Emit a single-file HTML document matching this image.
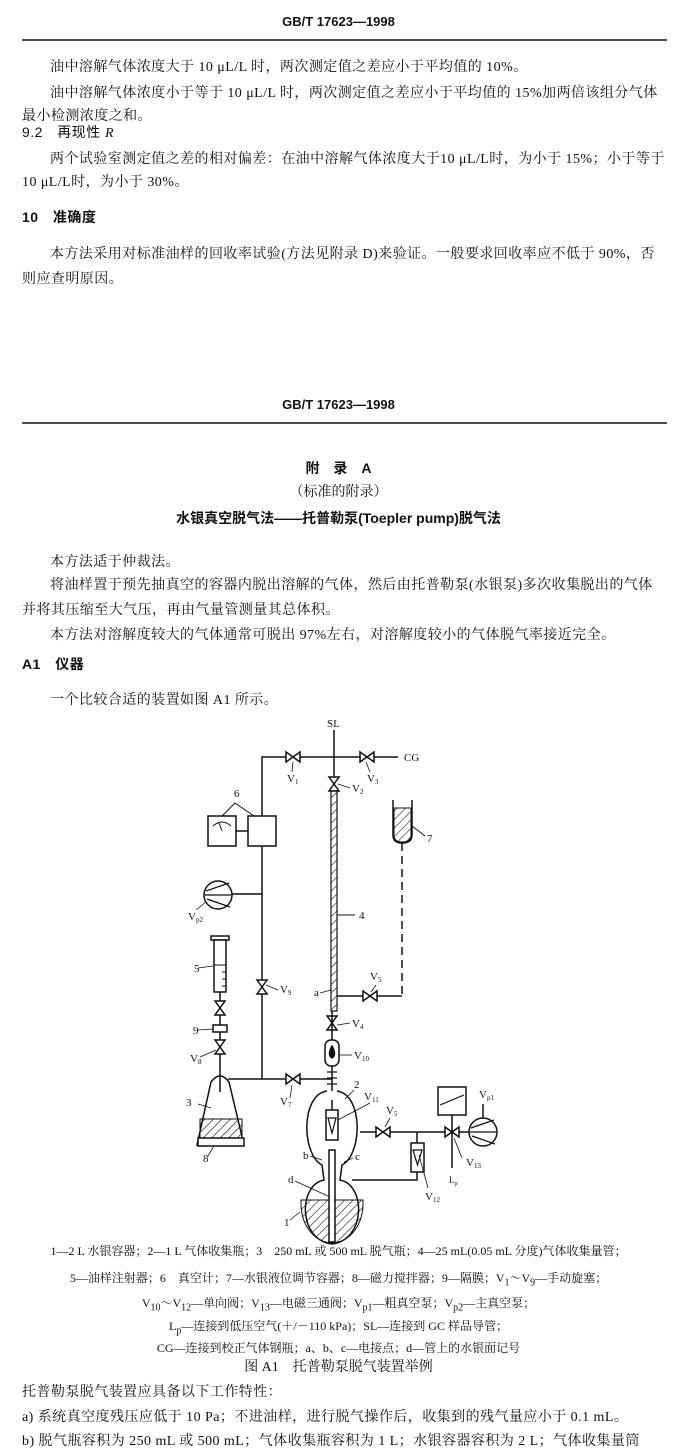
<!DOCTYPE html>
<html><head><meta charset="utf-8"><style>
body{margin:0;background:#fff;}
#p{position:relative;width:677px;height:1449px;overflow:hidden;font-family:"Liberation Serif","Noto Serif CJK SC","Noto Sans CJK SC",serif;color:#111;}
.t{position:absolute;font-size:14px;white-space:nowrap;line-height:16px;letter-spacing:0.45px;}
.c{left:0;width:677px;text-align:center;letter-spacing:0;}
.b{font-weight:bold;font-family:"Liberation Sans","Noto Sans CJK SC",sans-serif;}
.s{font-size:12px;}
svg{position:absolute;left:0;top:0;}
</style></head><body><div id="p">
<div class="t c b" style="top:14px;font-size:13px">GB/T 17623—1998</div>
<div class="t" style="left:50px;top:60px">油中溶解气体浓度大于 10 μL/L 时，两次测定值之差应小于平均值的 10%。</div>
<div class="t" style="left:50px;top:86px">油中溶解气体浓度小于等于 10 μL/L 时，两次测定值之差应小于平均值的 15%加两倍该组分气体</div>
<div class="t" style="left:22px;top:109px">最小检测浓度之和。</div>
<div class="t" style="left:22px;top:124px;font-family:'Liberation Sans','Noto Sans CJK SC',sans-serif">9.2　再现性 <i style="font-family:'Liberation Serif',serif">R</i></div>
<div class="t" style="left:50px;top:152px">两个试验室测定值之差的相对偏差：在油中溶解气体浓度大于10 μL/L时，为小于 15%；小于等于</div>
<div class="t" style="left:22px;top:175px">10 μL/L时，为小于 30%。</div>
<div class="t b" style="left:22px;top:209px">10　准确度</div>
<div class="t" style="left:50px;top:247px">本方法采用对标准油样的回收率试验(方法见附录 D)来验证。一般要求回收率应不低于 90%，否</div>
<div class="t" style="left:22px;top:272px">则应查明原因。</div>
<div class="t c b" style="top:397px;font-size:13px">GB/T 17623—1998</div>
<div class="t c b" style="top:460px">附　录　A</div>
<div class="t c" style="top:485px">（标准的附录）</div>
<div class="t c b" style="top:510px">水银真空脱气法——托普勒泵(Toepler pump)脱气法</div>
<div class="t" style="left:50px;top:555px">本方法适于仲裁法。</div>
<div class="t" style="left:50px;top:578px">将油样置于预先抽真空的容器内脱出溶解的气体，然后由托普勒泵(水银泵)多次收集脱出的气体</div>
<div class="t" style="left:22px;top:603px">并将其压缩至大气压，再由气量管测量其总体积。</div>
<div class="t" style="left:50px;top:628px">本方法对溶解度较大的气体通常可脱出 97%左右，对溶解度较小的气体脱气率接近完全。</div>
<div class="t b" style="left:22px;top:656px">A1　仪器</div>
<div class="t" style="left:50px;top:693px">一个比较合适的装置如图 A1 所示。</div>
<div class="t c s" style="top:1243px">1—2 L 水银容器；2—1 L 气体收集瓶；3　250 mL 或 500 mL 脱气瓶；4—25 mL(0.05 mL 分度)气体收集量管；</div>
<div class="t c s" style="top:1270px">5—油样注射器；6　真空计；7—水银液位调节容器；8—磁力搅拌器；9—隔膜；V<sub>1</sub>～V<sub>9</sub>—手动旋塞；</div>
<div class="t c s" style="top:1295px">V<sub>10</sub>～V<sub>12</sub>—单向阀；V<sub>13</sub>—电磁三通阀；V<sub>p1</sub>—粗真空泵；V<sub>p2</sub>—主真空泵；</div>
<div class="t c s" style="top:1318px">L<sub>p</sub>—连接到低压空气(＋/－110 kPa)；SL—连接到 GC 样品导管；</div>
<div class="t c s" style="top:1340px">CG—连接到校正气体钢瓶；a、b、c—电接点；d—管上的水银面记号</div>
<div class="t c" style="top:1360px">图 A1　托普勒泵脱气装置举例</div>
<div class="t" style="left:22px;top:1385px">托普勒泵脱气装置应具备以下工作特性：</div>
<div class="t" style="left:22px;top:1410px">a) 系统真空度残压应低于 10 Pa；不进油样，进行脱气操作后，收集到的残气量应小于 0.1 mL。</div>
<div class="t" style="left:22px;top:1434px">b) 脱气瓶容积为 250 mL 或 500 mL；气体收集瓶容积为 1 L；水银容器容积为 2 L；气体收集量筒</div>
<svg width="677" height="1449" viewBox="0 0 677 1449" font-family="Liberation Serif,serif" font-size="11" fill="none" stroke="#111" stroke-width="1.5">
<defs><pattern id="h" width="6" height="6" patternUnits="userSpaceOnUse" patternTransform="rotate(45)"><line x1="0" y1="0" x2="0" y2="6" stroke="#111" stroke-width="1.2"/></pattern>
<g id="vh"><path d="M-7,-5 L7,5 L7,-5 L-7,5 Z" fill="#fff"/></g>
<g id="vv"><path d="M-5,-7 L5,7 L-5,7 L5,-7 Z" fill="#fff"/></g></defs>
<line x1="22" y1="40" x2="667" y2="40"/><line x1="22" y1="423" x2="667" y2="423"/>
<line x1="334" y1="730" x2="334" y2="790"/>
<polyline points="262,1079 262,757 398,757"/>
<use href="#vh" x="293" y="757"/><use href="#vh" x="367" y="757"/><use href="#vv" x="334" y="784"/>
<rect x="331" y="791" width="6" height="220" fill="url(#h)" stroke-width="1.2"/>
<line x1="337" y1="915" x2="355" y2="915" stroke-width="1"/>
<rect x="208" y="816" width="28" height="30" fill="#fff"/><rect x="248" y="816" width="28" height="30" fill="#fff"/>
<line x1="236" y1="831" x2="248" y2="831"/>
<path d="M213,826 Q222,818 231,826" stroke-width="1"/><line x1="219" y1="823" x2="222" y2="831" stroke-width="1"/>
<polyline points="222,816 235,803 254,816" stroke-width="1"/>
<circle cx="218" cy="895" r="14" fill="#fff"/><path d="M206,891 L229,883 M207,899 L230,907 M205,895 L231,895" stroke-width="1.2"/>
<line x1="232" y1="894" x2="262" y2="894"/>
<use href="#vv" x="262" y="987"/>
<path d="M393,800 L393,835 Q393,843 402,843 Q412,843 412,835 L412,800"/>
<path d="M394,808 L411,808 L411,835 Q411,842 402,842 Q394,842 394,835 Z" fill="url(#h)" stroke-width="1"/>
<line x1="412" y1="826" x2="425" y2="836" stroke-width="1"/>
<line x1="402" y1="843" x2="402" y2="996" stroke-dasharray="8,5"/>
<polyline points="337,996 402,996"/><use href="#vh" x="370" y="996"/>
<rect x="211" y="936" width="18" height="4" fill="#fff"/>
<rect x="214" y="940" width="12" height="52" fill="#fff"/>
<path d="M214,965 L226,965 M222,972 L226,972 M222,979 L226,979 M222,986 L226,986" stroke-width="1"/>
<line x1="220" y1="992" x2="220" y2="1077"/>
<use href="#vv" x="220" y="1008"/>
<rect x="213" y="1025" width="14" height="7" fill="#fff"/>
<use href="#vv" x="220" y="1047"/>
<path d="M211,1082 Q220,1070 229,1082 L244,1145 L197,1145 Z" fill="#fff"/>
<line x1="220" y1="1077" x2="220" y2="1092"/>
<rect x="200" y="1119" width="42" height="19" fill="url(#h)" stroke-width="1"/>
<rect x="198" y="1138" width="46" height="8" fill="#fff"/>
<line x1="228" y1="1079" x2="332" y2="1079"/><use href="#vh" x="293" y="1079"/>
<use href="#vv" x="332" y="1023"/>
<line x1="332" y1="1011" x2="332" y2="1100"/>
<rect x="325" y="1040" width="14" height="26" rx="6" fill="#fff"/>
<path d="M332,1046 Q327,1055 332,1058 Q337,1055 332,1046Z" fill="#111"/>
<path d="M327,1072 h10 M327,1078 h10 M327,1084 h10" stroke-width="1.2"/>
<path d="M327,1091 C300,1095 302,1155 322,1165 L324,1180 C298,1185 298,1240 332,1244 C366,1240 366,1185 340,1180 L342,1165 C362,1155 364,1095 337,1091" fill="#fff"/>
<path d="M301,1200 L363,1200 C364,1225 350,1242 332,1243 C314,1242 300,1225 301,1200Z" fill="url(#h)" stroke-width="1"/>
<rect x="329" y="1150" width="6" height="92" fill="#fff"/>
<rect x="326" y="1110" width="12" height="30" fill="#fff"/>
<path d="M328,1118 L336,1118 L332,1133 Z" stroke-width="1.2"/>
<line x1="332" y1="1100" x2="332" y2="1110"/>
<line x1="360" y1="1132" x2="470" y2="1132"/>
<use href="#vh" x="383" y="1132"/>
<line x1="417" y1="1132" x2="417" y2="1143"/>
<rect x="411" y="1143" width="13" height="29" fill="#fff"/>
<path d="M413,1150 L422,1150 L417.5,1165 Z" stroke-width="1.2"/>
<polyline points="417,1172 417,1180 352,1180"/>
<rect x="438" y="1087" width="28" height="28" fill="#fff"/>
<line x1="440" y1="1105" x2="464" y2="1095" stroke-width="1.2"/>
<line x1="452" y1="1115" x2="452" y2="1168"/>
<use href="#vh" x="452" y="1132"/>
<circle cx="483" cy="1132" r="14" fill="#fff"/><path d="M471,1128 L494,1120 M472,1136 L495,1144 M470,1132 L496,1132" stroke-width="1.2"/>
<line x1="483" y1="1118" x2="483" y2="1104"/>
<g fill="#111" stroke="none">
<text x="327" y="727">SL</text><text x="404" y="761">CG</text>
<text x="287" y="782">V<tspan font-size="7" dy="2">1</tspan></text>
<text x="367" y="782">V<tspan font-size="7" dy="2">3</tspan></text>
<text x="352" y="792">V<tspan font-size="7" dy="2">2</tspan></text>
<text x="234" y="797">6</text><text x="427" y="842">7</text><text x="359" y="919">4</text>
<text x="188" y="920">V<tspan font-size="7" dy="2">p2</tspan></text>
<text x="194" y="972">5</text><text x="280" y="993">V<tspan font-size="7" dy="2">9</tspan></text>
<text x="370" y="980">V<tspan font-size="7" dy="2">5</tspan></text>
<text x="314" y="996">a</text><text x="193" y="1034">9</text>
<text x="190" y="1062">V<tspan font-size="7" dy="2">8</tspan></text>
<text x="352" y="1027">V<tspan font-size="7" dy="2">4</tspan></text>
<text x="354" y="1059">V<tspan font-size="7" dy="2">10</tspan></text>
<text x="186" y="1106">3</text><text x="203" y="1162">8</text>
<text x="280" y="1105">V<tspan font-size="7" dy="2">7</tspan></text>
<text x="354" y="1088">2</text>
<text x="364" y="1100">V<tspan font-size="7" dy="2">11</tspan></text>
<text x="386" y="1114">V<tspan font-size="7" dy="2">5</tspan></text>
<text x="479" y="1098">V<tspan font-size="7" dy="2">p1</tspan></text>
<text x="466" y="1166">V<tspan font-size="7" dy="2">13</tspan></text>
<text x="449" y="1183" font-size="9">L<tspan font-size="6" dy="2">p</tspan></text>
<text x="425" y="1200">V<tspan font-size="7" dy="2">12</tspan></text>
<text x="303" y="1159">b</text><text x="355" y="1160">c</text><text x="288" y="1183">d</text><text x="284" y="1226">1</text>
</g>
<g stroke-width="0.8"><line x1="310" y1="1156" x2="322" y2="1160"/><line x1="344" y1="1162" x2="353" y2="1158"/><line x1="295" y1="1181" x2="330" y2="1197"/><line x1="290" y1="1220" x2="300" y2="1212"/><line x1="354" y1="1090" x2="345" y2="1099"/><line x1="370" y1="1103" x2="338" y2="1120"/><line x1="419" y1="1155" x2="428" y2="1188"/><line x1="462" y1="1158" x2="454" y2="1138"/><line x1="198" y1="1104" x2="211" y2="1108"/><line x1="208" y1="1156" x2="214" y2="1146"/><line x1="198" y1="968" x2="213" y2="966"/><line x1="198" y1="1030" x2="213" y2="1029"/><line x1="200" y1="1057" x2="216" y2="1050"/><line x1="320" y1="993" x2="331" y2="990"/><line x1="350" y1="1023" x2="337" y2="1025"/><line x1="352" y1="1055" x2="339" y2="1055"/><line x1="278" y1="990" x2="266" y2="985"/><line x1="350" y1="788" x2="338" y2="784"/><line x1="290" y1="1098" x2="292" y2="1085"/><line x1="292" y1="772" x2="293" y2="762"/><line x1="370" y1="772" x2="366" y2="762"/><line x1="376" y1="985" x2="371" y2="992"/><line x1="390" y1="1118" x2="385" y2="1127"/><line x1="196" y1="910" x2="206" y2="902"/></g>
</svg>
</div></body></html>
